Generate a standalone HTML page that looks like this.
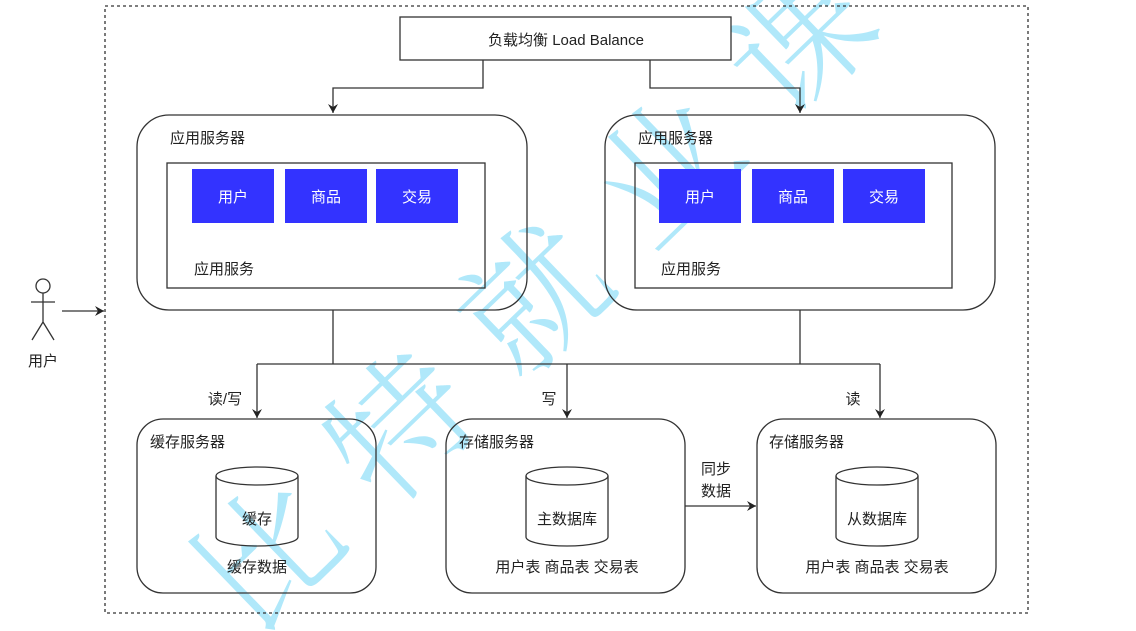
<!DOCTYPE html>
<html><head><meta charset="utf-8"><style>
html,body{margin:0;background:#fff;width:1136px;height:631px;overflow:hidden}
svg{display:block;overflow:hidden}
text{font-family:"Liberation Sans","Noto Sans CJK SC",sans-serif;fill:#222}
</style></head><body>
<svg width="1136" height="631" viewBox="0 0 1136 631" xmlns="http://www.w3.org/2000/svg">
<defs><marker id="a" markerWidth="10" markerHeight="10" refX="9" refY="5" orient="auto" markerUnits="userSpaceOnUse">
<path d="M0,0 L9,5 L0,10 L3,5 Z" fill="#222"/></marker>
<clipPath id="c"><rect x="0" y="0" width="1136" height="631"/></clipPath></defs>
<g clip-path="url(#c)">
<text x="0" y="0" font-size="140" letter-spacing="45" transform="translate(252,640) rotate(-44)" style="fill:#a8e6fa;font-family:'Noto Serif CJK SC',serif;font-weight:300" opacity="0.9">比特就业课</text>
</g>
<g fill="none" stroke="#333" stroke-width="1.3">
<rect x="105" y="6" width="923" height="607" stroke-dasharray="3,3"/>
<rect x="400" y="17" width="331" height="43" fill="#fff"/>
<path d="M483 60 V88 H333 V113" marker-end="url(#a)"/>
<path d="M650 60 V88 H800 V113" marker-end="url(#a)"/>
<rect x="137" y="115" width="390" height="195" rx="32"/>
<rect x="605" y="115" width="390" height="195" rx="32"/>
<rect x="167" y="163" width="318" height="125"/>
<rect x="635" y="163" width="317" height="125"/>
<path d="M333 310 V364 M800 310 V364 M257 364 H880"/>
<path d="M257 364 V418" marker-end="url(#a)"/>
<path d="M567 364 V418" marker-end="url(#a)"/>
<path d="M880 364 V418" marker-end="url(#a)"/>
<rect x="137" y="419" width="239" height="174" rx="26"/>
<rect x="446" y="419" width="239" height="174" rx="26"/>
<rect x="757" y="419" width="239" height="174" rx="26"/>
<path d="M685 506 H756" marker-end="url(#a)"/>
<path d="M62 311 H104" marker-end="url(#a)"/>
<path d="M216 476 V537 A41 9 0 0 0 298 537 V476"/><ellipse cx="257" cy="476" rx="41" ry="9"/>
<path d="M526 476 V537 A41 9 0 0 0 608 537 V476"/><ellipse cx="567" cy="476" rx="41" ry="9"/>
<path d="M836 476 V537 A41 9 0 0 0 918 537 V476"/><ellipse cx="877" cy="476" rx="41" ry="9"/>
<circle cx="43" cy="286" r="7"/><path d="M43 293 V322 M31 302 H55 M43 322 L32 340 M43 322 L54 340"/>
</g>
<g fill="#3333ff">
<rect x="192" y="169" width="82" height="54"/><rect x="285" y="169" width="82" height="54"/><rect x="376" y="169" width="82" height="54"/>
<rect x="659" y="169" width="82" height="54"/><rect x="752" y="169" width="82" height="54"/><rect x="843" y="169" width="82" height="54"/>
</g>
<g font-size="15">
<text x="566" y="45" text-anchor="middle">负载均衡 Load Balance</text>
<text x="170" y="143">应用服务器</text><text x="638" y="143">应用服务器</text>
<text x="194" y="274">应用服务</text><text x="661" y="274">应用服务</text>
<g text-anchor="middle">
<text x="233" y="202" style="fill:#fff">用户</text><text x="326" y="202" style="fill:#fff">商品</text><text x="417" y="202" style="fill:#fff">交易</text>
<text x="700" y="202" style="fill:#fff">用户</text><text x="793" y="202" style="fill:#fff">商品</text><text x="884" y="202" style="fill:#fff">交易</text>
</g>
<text x="225" y="404" text-anchor="middle">读/写</text><text x="549" y="404" text-anchor="middle">写</text><text x="853" y="404" text-anchor="middle">读</text>
<text x="150" y="447">缓存服务器</text><text x="459" y="447">存储服务器</text><text x="769" y="447">存储服务器</text>
<text x="257" y="524" text-anchor="middle">缓存</text><text x="567" y="524" text-anchor="middle">主数据库</text><text x="877" y="524" text-anchor="middle">从数据库</text>
<text x="257" y="572" text-anchor="middle">缓存数据</text><text x="567" y="572" text-anchor="middle">用户表 商品表 交易表</text><text x="877" y="572" text-anchor="middle">用户表 商品表 交易表</text>
<text x="716" y="474" text-anchor="middle">同步</text><text x="716" y="496" text-anchor="middle">数据</text>
<text x="43" y="366" text-anchor="middle">用户</text>
</g>
</svg>
</body></html>
